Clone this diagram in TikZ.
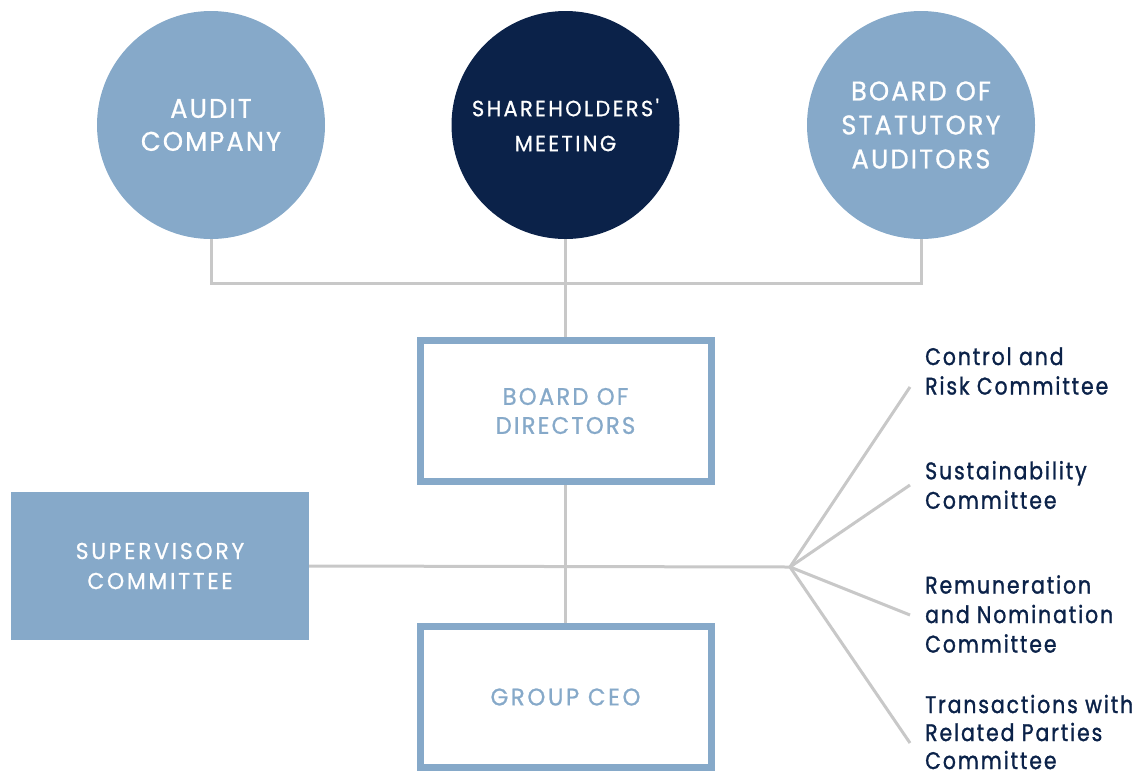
\documentclass[tikz,border=0pt]{standalone}
\usepackage{fontspec}
\setmainfont{Poppins}
\newfontfamily\capsfont[FakeStretch=0.95,FakeBold=0.8]{Poppins}
\newfontfamily\lowfont[LetterSpace=8,FakeStretch=0.85,FakeBold=1.2]{Poppins}
\newcommand{\lsp}[1]{\addfontfeature{LetterSpace=#1}}
\definecolor{lblue}{HTML}{86A9C9}
\definecolor{navy}{HTML}{0B2249}
\definecolor{lgray}{HTML}{C8C8C8}
\tikzset{
  circ/.style={circle, minimum size=228pt, inner sep=0pt, fill=lblue, text=white, align=center},
  openbox/.style={rectangle, draw=lblue, line width=7pt, minimum width=291pt, minimum height=141pt, text=lblue, align=center, inner sep=0pt},
  fillbox/.style={rectangle, fill=lblue, minimum width=298pt, minimum height=148pt, text=white, align=center, inner sep=0pt},
  comm/.style={anchor=west, text=navy, align=left, inner sep=0pt, font=\lowfont\fontsize{24}{29.5}\selectfont},
  conn/.style={draw=lgray, line width=3pt},
}
\begin{document}
\begin{tikzpicture}[x=1pt,y=-1pt]
\useasboundingbox (0,0) rectangle (1137,777);
\node[circ, font=\capsfont\lsp{8}\fontsize{27}{33}\selectfont] (audit) at (211,125) {AUDIT\\COMPANY};
\node[circ, fill=navy, font=\capsfont\lsp{11}\fontsize{22}{35}\selectfont] (share) at (565.5,125) {SHAREHOLDERS'\\MEETING};
\node[circ, font=\capsfont\lsp{8}\fontsize{27}{34}\selectfont] (stat) at (921,125) {BOARD OF\\STATUTORY\\AUDITORS};
\node[openbox, font=\capsfont\lsp{9}\fontsize{24}{29}\selectfont] (bod) at (565.5,411) {BOARD OF\\DIRECTORS};
\node[openbox, font=\capsfont\lsp{11}\fontsize{24}{29}\selectfont] (ceo) at (565.5,697) {GROUP CEO};
\node[fillbox, font=\capsfont\lsp{12}\fontsize{23}{30}\selectfont] (sup) at (160,566) {SUPERVISORY\\COMMITTEE};
\coordinate (jl) at (211,283);
\coordinate (jc) at (565.5,283);
\coordinate (jr) at (921,283);
\coordinate (hub) at (790,567);
\coordinate (e1) at (910,387);
\coordinate (e2) at (910,485);
\coordinate (e3) at (910,615);
\coordinate (e4) at (910,743);
\node[comm] (c1) at (925,371) {Control and\\Risk Committee};
\node[comm] (c2) at (925,485) {Sustainability\\Committee};
\node[comm] (c3) at (925,614) {Remuneration\\and Nomination\\Committee};
\node[comm, font=\lowfont\fontsize{24}{28}\selectfont] (c4) at (925,732) {Transactions with\\Related Parties\\Committee};
\draw[conn] (audit.south) -- (jl) -- (jr) -- (stat.south);
\draw[conn] (share.south) -- (jc) -- (bod.north);
\draw[conn] (bod.south) -- (ceo.north);
\draw[conn] (sup.east) -- (hub);
\draw[conn] (hub) -- (e1);
\draw[conn] (hub) -- (e2);
\draw[conn] (hub) -- (e3);
\draw[conn] (hub) -- (e4);
\end{tikzpicture}
\end{document}
